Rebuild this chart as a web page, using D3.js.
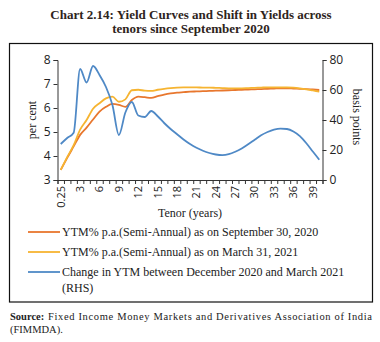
<!DOCTYPE html>
<html>
<head>
<meta charset="utf-8">
<script src="https://cdn.jsdelivr.net/npm/d3@7"></script>
<style>
  body { margin: 0; background: #fff; }
  svg { display: block; }
  .serif { font-family: "Liberation Serif", "DejaVu Serif", serif; }
  .tick text { font-family: "Open Sans", "Liberation Sans", sans-serif; font-size: 11px; fill: #222; }
  .domain, .tick line { stroke: #333; }
</style>
</head>
<body>
<div id="chart"></div>
<script>
// categories (tenor in years)
const tenors = ["0.25", "1", "2", "3", "4", "5", "6", "7", "8", "9", "10", "11", "12", "13", "14", "15",
  "16", "17", "18", "19", "20", "21", "22", "23", "24", "25", "26", "27", "28", "29", "30",
  "31", "32", "33", "34", "35", "36", "37", "38", "39", "40"];
const tenorLabels = ["0.25", "3", "6", "9", "12", "15", "18", "21", "24", "27", "30", "33", "36", "39"];

// YTM% p.a. (semi-annual), 30 Sep 2020
const ytmSep2020 = [3.42, 3.92, 4.40, 4.88, 5.18, 5.52, 5.85, 6.05, 6.17, 6.13, 6.05, 6.33, 6.47, 6.45, 6.42, 6.49,
  6.56, 6.61, 6.64, 6.66, 6.68, 6.69, 6.70, 6.71, 6.72, 6.73, 6.74, 6.75, 6.76, 6.77, 6.78,
  6.79, 6.80, 6.81, 6.82, 6.82, 6.81, 6.80, 6.79, 6.77, 6.75];
// YTM% p.a. (semi-annual), 31 Mar 2021
const ytmMar2021 = [3.42, 3.95, 4.45, 5.10, 5.50, 5.97, 6.20, 6.40, 6.47, 6.26, 6.36, 6.74, 6.76, 6.72, 6.71, 6.76,
  6.80, 6.83, 6.85, 6.86, 6.86, 6.86, 6.85, 6.85, 6.84, 6.83, 6.82, 6.82, 6.82, 6.83, 6.84,
  6.85, 6.86, 6.86, 6.86, 6.86, 6.85, 6.82, 6.78, 6.73, 6.68];
// change in YTM Dec 2020 -> Mar 2021, basis points (RHS)
const changeBp = [24, 28, 31.5, 74, 65, 76, 70, 62, 50, 30, 45, 52, 43, 42, 46, 42.5,
  38, 34, 30.5, 27, 24, 21.5, 19.5, 18, 17, 16.6, 17.2, 18.8, 21, 23.8, 26.8,
  29.8, 32, 33.6, 34.3, 34, 32.3, 29.2, 24.5, 19, 13.5];

const leftTicks = [3, 4, 5, 6, 7, 8];
const rightTicks = [0, 20, 40, 60, 80];

const series = [
  { name: "YTM% p.a.(Semi-Annual) as on September 30, 2020", values: ytmSep2020, color: "#E8772E", axis: "left" },
  { name: "YTM% p.a.(Semi-Annual) as on March 31, 2021", values: ytmMar2021, color: "#F6B431", axis: "left" },
  { name: "Change in YTM between December 2020 and March 2021", name2: "(RHS)", values: changeBp, color: "#4F89C6", axis: "right" }
];

const W = 380, H = 342;
const plot = { left: 57.5, right: 322.5, top: 60, bottom: 180 };

const svg = d3.select("#chart").append("svg")
  .attr("width", W)
  .attr("height", H);

// title
const title = svg.append("text")
  .attr("class", "serif")
  .attr("text-anchor", "middle")
  .attr("font-weight", "bold")
  .attr("font-size", 13)
  .attr("fill", "#2e241c");
title.append("tspan").attr("x", 191).attr("y", 19).text("Chart 2.14: Yield Curves and Shift in Yields across");
title.append("tspan").attr("x", 191).attr("y", 33).text("tenors since September 2020");

// frame
svg.append("rect")
  .attr("x", 9.5).attr("y", 43.5)
  .attr("width", 363).attr("height", 258.5)
  .attr("fill", "none")
  .attr("stroke", "#111")
  .attr("stroke-width", 1.2);

const x = d3.scaleBand().domain(tenors).range([plot.left, plot.right]).padding(0);
const xEdge = d3.scaleLinear().domain([0, tenors.length]).range([plot.left, plot.right]);
const yL = d3.scaleLinear().domain([3, 8]).range([plot.bottom, plot.top]);
const yR = d3.scaleLinear().domain([0, 80]).range([plot.bottom, plot.top]);

// x axis: small ticks at category edges, labels every 3 years
svg.append("g")
  .attr("transform", `translate(0,${plot.bottom})`)
  .call(d3.axisBottom(xEdge).tickValues(d3.range(tenors.length + 1)).tickSize(4).tickFormat(""));

const xLab = svg.append("g")
  .attr("transform", `translate(0,${plot.bottom})`)
  .call(d3.axisBottom(x).tickValues(tenorLabels).tickSize(0));
xLab.select(".domain").remove();
xLab.selectAll("text")
  .attr("transform", "rotate(-90)")
  .attr("text-anchor", "end")
  .attr("x", -6)
  .attr("y", 0)
  .attr("dy", "0.35em");

// left axis
svg.append("g")
  .attr("transform", `translate(${plot.left},0)`)
  .call(d3.axisLeft(yL).tickValues(leftTicks).tickSize(4).tickPadding(3).tickFormat(d3.format("d")))
  .selectAll("text").style("font-size", "12px");

// right axis
svg.append("g")
  .attr("transform", `translate(${plot.right},0)`)
  .call(d3.axisRight(yR).tickValues(rightTicks).tickSize(4).tickPadding(3).tickFormat(d3.format("d")))
  .selectAll("text").style("font-size", "12px");

// axis titles
svg.append("text")
  .attr("class", "serif")
  .attr("transform", `translate(32,${(plot.top + plot.bottom) / 2}) rotate(-90)`)
  .attr("text-anchor", "middle")
  .attr("dy", "0.35em")
  .attr("font-size", 12)
  .attr("fill", "#222")
  .text("per cent");

svg.append("text")
  .attr("class", "serif")
  .attr("transform", `translate(357,${(plot.top + plot.bottom) / 2 - 3}) rotate(90)`)
  .attr("text-anchor", "middle")
  .attr("dy", "0.35em")
  .attr("font-size", 12)
  .attr("fill", "#222")
  .text("basis points");

svg.append("text")
  .attr("class", "serif")
  .attr("x", (plot.left + plot.right) / 2)
  .attr("y", 217)
  .attr("text-anchor", "middle")
  .attr("font-size", 12)
  .attr("fill", "#222")
  .text("Tenor (years)");

// lines
series.forEach(s => {
  const y = s.axis === "left" ? yL : yR;
  const line = d3.line()
    .x((d, i) => x(tenors[i]) + x.bandwidth() / 2)
    .y(d => y(d))
    .curve(d3.curveMonotoneX);
  svg.append("path")
    .datum(s.values)
    .attr("fill", "none")
    .attr("stroke", s.color)
    .attr("stroke-width", 1.8)
    .attr("stroke-linejoin", "round")
    .attr("d", line);
});

// legend
const legend = svg.selectAll(".legend")
  .data(series)
  .enter().append("g")
  .attr("class", "legend")
  .attr("transform", (d, i) => `translate(0,${232 + i * 20})`);

legend.append("line")
  .attr("x1", 28).attr("x2", 60)
  .attr("y1", 0).attr("y2", 0)
  .attr("stroke", d => d.color)
  .attr("stroke-width", 1.8);

legend.append("text")
  .attr("class", "serif")
  .attr("x", 62)
  .attr("y", 0)
  .attr("dy", "0.35em")
  .attr("font-size", 12)
  .attr("fill", "#222")
  .text(d => d.name);

legend.filter(d => d.name2)
  .append("text")
  .attr("class", "serif")
  .attr("x", 62)
  .attr("y", 16)
  .attr("dy", "0.35em")
  .attr("font-size", 12)
  .attr("fill", "#222")
  .text(d => d.name2);

// source note
svg.append("text")
  .attr("class", "serif")
  .attr("x", 10).attr("y", 320)
  .attr("font-size", 10.5)
  .attr("font-weight", "bold")
  .attr("fill", "#222")
  .text("Source:");
svg.append("text")
  .attr("class", "serif")
  .attr("x", 48).attr("y", 320)
  .attr("font-size", 10.5)
  .attr("fill", "#222")
  .attr("textLength", 324)
  .attr("lengthAdjust", "spacing")
  .text("Fixed Income Money Markets and Derivatives Association of India");
svg.append("text")
  .attr("class", "serif")
  .attr("x", 10).attr("y", 333)
  .attr("font-size", 10.5)
  .attr("fill", "#222")
  .text("(FIMMDA).");
</script>
</body>
</html>
